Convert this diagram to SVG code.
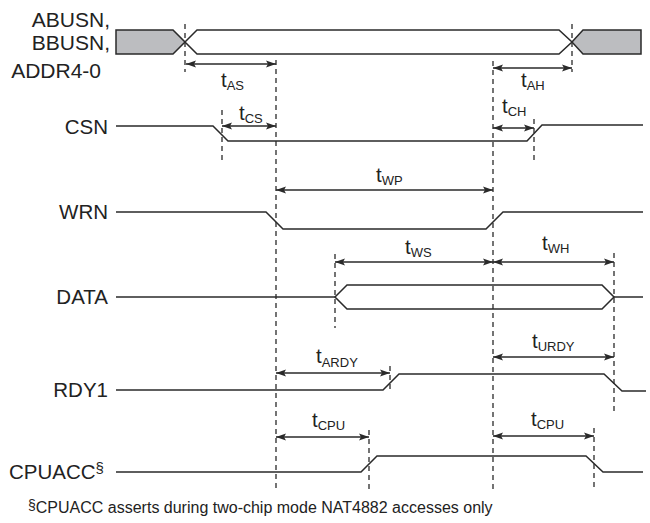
<svg xmlns="http://www.w3.org/2000/svg" width="650" height="523" viewBox="0 0 650 523">
<defs>
<marker id="ah" viewBox="0 0 10 8" refX="10" refY="4" markerWidth="10" markerHeight="8" markerUnits="userSpaceOnUse" orient="auto-start-reverse">
<path d="M0,0.5 L10,4 L0,7.5 L2,4 Z" fill="#2a2a2a"/>
</marker>
</defs>
<style>
.sig{fill:none;stroke:#2a2a2a;stroke-width:1.5;stroke-linejoin:miter}
.bus{fill:#ffffff;stroke:#2a2a2a;stroke-width:1.5}
.gray{fill:#bcbdc0;stroke:#2a2a2a;stroke-width:1.5}
.dash{fill:none;stroke:#2a2a2a;stroke-width:1.3;stroke-dasharray:5,4}
.arr{fill:none;stroke:#2a2a2a;stroke-width:1.3;marker-start:url(#ah);marker-end:url(#ah)}
.lbl{font-family:"Liberation Sans",Arial,sans-serif;font-size:20.5px;fill:#222}
.blbl{font-family:"Liberation Sans",Arial,sans-serif;font-size:21px;fill:#222}
.tl{font-family:"Liberation Sans",Arial,sans-serif;font-size:20.5px;fill:#222}
.sub{font-size:13px}
.note{font-family:"Liberation Sans",Arial,sans-serif;font-size:16px;fill:#222}
</style>
<rect width="650" height="523" fill="#ffffff"/>

<g id="labels">
<text class="blbl" x="110" y="27" text-anchor="end">ABUSN,</text>
<text class="blbl" x="110" y="50" text-anchor="end">BBUSN,</text>
<text class="blbl" x="101" y="78" text-anchor="end">ADDR4-0</text>
<text class="lbl" x="108" y="134" text-anchor="end">CSN</text>
<text class="lbl" x="108" y="219" text-anchor="end">WRN</text>
<text class="lbl" x="108" y="304" text-anchor="end">DATA</text>
<text class="lbl" x="108" y="397" text-anchor="end">RDY1</text>
<text class="lbl" x="9" y="479">CPUACC<tspan font-size="15" dy="-6">§</tspan></text>
</g>

<g id="sig-bus">
<polygon class="gray" points="116,30 173,30 185,42 173,54 116,54"/>
<polygon class="bus" points="185,42 197,30 559,30 572,42 559,54 197,54"/>
<polygon class="gray" points="572,42 583,30 641,30 641,54 583,54"/>
</g>
<g id="sig-csn"><polyline class="sig" points="116,126 213,126 228,141 527,141 542,125 643,125"/></g>
<g id="sig-wrn"><polyline class="sig" points="116,212 266,212 283,229 486,229 503,212 643,212"/></g>
<g id="sig-data">
<polyline class="sig" points="116,297 335,297"/>
<polygon class="bus" points="335,297 347,285 602,285 614,297 602,309 347,309"/>
<polyline class="sig" points="614,297 643,297"/>
</g>
<g id="sig-rdy1"><polyline class="sig" points="116,390 383,390 399,374 604,374 622,391 646,391"/></g>
<g id="sig-cpuacc"><polyline class="sig" points="116,472 361,472 377,456 586,456 603,472 643,472"/></g>

<g id="connectors">
<line class="dash" x1="185" y1="24" x2="185" y2="72"/>
<line class="dash" x1="572" y1="24" x2="572" y2="72"/>
<line class="dash" x1="276" y1="60" x2="276" y2="492"/>
<line class="dash" x1="493" y1="61" x2="493" y2="492"/>
<line class="dash" x1="222" y1="110" x2="222" y2="163"/>
<line class="dash" x1="534" y1="119" x2="534" y2="163"/>
<line class="dash" x1="335" y1="254" x2="335" y2="328"/>
<line class="dash" x1="614" y1="253" x2="614" y2="412"/>
<line class="dash" x1="390" y1="366" x2="390" y2="393"/>
<line class="dash" x1="369" y1="430" x2="369" y2="490"/>
<line class="dash" x1="594" y1="428" x2="594" y2="488"/>

<line class="arr" x1="186" y1="64" x2="276" y2="64"/>
<line class="arr" x1="493" y1="68" x2="572" y2="68"/>
<line class="arr" x1="222" y1="126" x2="276" y2="126"/>
<line class="arr" x1="493" y1="128" x2="534" y2="128"/>
<line class="arr" x1="276" y1="190" x2="493" y2="190"/>
<line class="arr" x1="335" y1="262" x2="493" y2="262"/>
<line class="arr" x1="493" y1="262" x2="614" y2="262"/>
<line class="arr" x1="276" y1="373" x2="390" y2="373"/>
<line class="arr" x1="493" y1="357" x2="614" y2="357"/>
<line class="arr" x1="276" y1="437" x2="369" y2="437"/>
<line class="arr" x1="493" y1="436" x2="594" y2="436"/>
</g>

<g id="timing-labels">
<text class="tl" x="221" y="87">t<tspan class="sub" dy="3">AS</tspan></text>
<text class="tl" x="521" y="87">t<tspan class="sub" dy="3">AH</tspan></text>
<text class="tl" x="239" y="120">t<tspan class="sub" dy="3">CS</tspan></text>
<text class="tl" x="502" y="113">t<tspan class="sub" dy="3">CH</tspan></text>
<text class="tl" x="376" y="182">t<tspan class="sub" dy="3">WP</tspan></text>
<text class="tl" x="405" y="254">t<tspan class="sub" dy="3">WS</tspan></text>
<text class="tl" x="542" y="250">t<tspan class="sub" dy="3">WH</tspan></text>
<text class="tl" x="316" y="363">t<tspan class="sub" dy="4">ARDY</tspan></text>
<text class="tl" x="532" y="348">t<tspan class="sub" dy="3">URDY</tspan></text>
<text class="tl" x="312" y="427">t<tspan class="sub" dy="3">CPU</tspan></text>
<text class="tl" x="531" y="426">t<tspan class="sub" dy="3">CPU</tspan></text>
</g>

<g id="footnote">
<text class="note" x="28" y="513"><tspan font-size="14" dy="-3">§</tspan><tspan dy="3">CPUACC asserts during two-chip mode NAT4882 accesses only</tspan></text>
</g>
</svg>
